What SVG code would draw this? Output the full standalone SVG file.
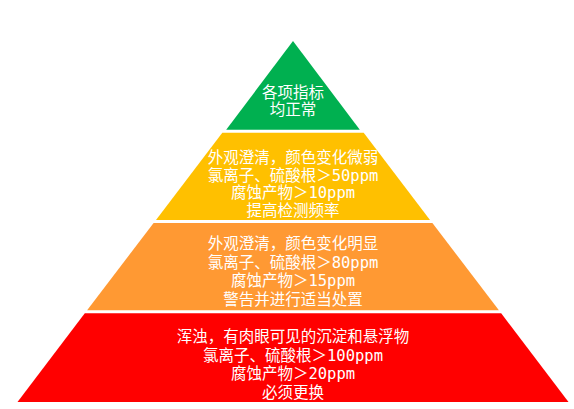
<svg xmlns="http://www.w3.org/2000/svg" width="574" height="409" viewBox="0 0 574 409">
<style>
text{font-family:"DejaVu Sans Mono","Noto Sans CJK SC",monospace;font-size:15.5px;fill:#fff;text-anchor:middle}
</style>
<rect width="574" height="409" fill="#fff"/>
<g id="level1">
<polygon points="293,41 359.8,129.7 226.2,129.7" fill="#00B050"/>
<text x="293" y="97.5">各项指标</text>
<text x="293" y="115">均正常</text>
</g>
<g id="level2">
<polygon points="222.3,132.7 363.7,132.7 430,219.9 156,219.9" fill="#FFC000"/>
<text x="293" y="162.7">外观澄清，颜色变化微弱</text>
<text x="293" y="180.5">氯离子、硫酸根＞50ppm</text>
<text x="293" y="198.3">腐蚀产物＞10ppm</text>
<text x="293" y="216.1">提高检测频率</text>
</g>
<g id="level3">
<polygon points="153.6,223 432.4,223 498.9,310.2 87.1,310.2" fill="#FF9933"/>
<text x="293" y="249">外观澄清，颜色变化明显</text>
<text x="293" y="267.7">氯离子、硫酸根＞80ppm</text>
<text x="293" y="286.4">腐蚀产物＞15ppm</text>
<text x="293" y="305">警告并进行适当处置</text>
</g>
<g id="level4">
<polygon points="84.8,313.3 501.2,313.3 568.5,402 17.5,402" fill="#FF0000"/>
<text x="293" y="341.7">浑浊，有肉眼可见的沉淀和悬浮物</text>
<text x="293" y="360.5">氯离子、硫酸根＞100ppm</text>
<text x="293" y="379.3">腐蚀产物＞20ppm</text>
<text x="293" y="398">必须更换</text>
</g>
<g id="connectors"></g>
</svg>
